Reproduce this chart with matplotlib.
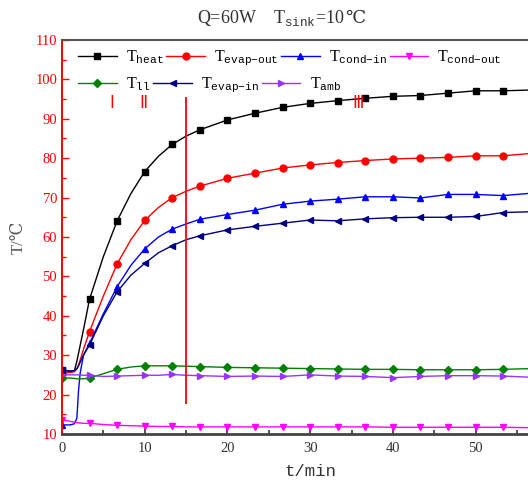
import matplotlib
matplotlib.use("Agg")
import matplotlib.pyplot as plt
from matplotlib.ticker import MultipleLocator, FixedLocator

plt.rcParams['font.family'] = ['Liberation Serif', 'DejaVu Serif']
plt.rcParams['mathtext.fontset'] = 'custom'
plt.rcParams['mathtext.rm'] = 'Liberation Serif'
plt.rcParams['mathtext.tt'] = 'Liberation Mono'

# time (min)
t = [0, 1, 1.5, 1.8, 2, 2.2, 2.6, 3.33, 5, 6.67, 8.33, 10, 11.67, 13.33, 15, 16.67,
     20, 23.33, 26.67, 30, 33.33, 36.67, 40, 43.33, 46.67, 50, 53.33, 56.67, 60]

T_heat = [26.2, 25.9, 26.0, 28.5, 30.5, 32.5, 36.5, 44.2, 55.0, 64.1, 71.0, 76.6, 80.5, 83.5, 85.6, 87.2,
          89.7, 91.4, 92.9, 93.9, 94.6, 95.2, 95.7, 95.9, 96.5, 97.1, 97.1, 97.3, 97.4]
T_evap_out = [25.5, 25.6, 25.8, 26.5, 27.5, 28.8, 31.5, 36.0, 45.0, 53.2, 59.3, 64.2, 67.5, 70.0, 71.6, 72.9,
              74.9, 76.2, 77.5, 78.3, 78.9, 79.4, 79.8, 80.0, 80.2, 80.6, 80.6, 81.2, 81.4]
T_cond_in = [12.3, 12.3, 12.6, 14.0, 21.0, 25.5, 30.0, 33.0, 40.5, 47.4, 52.8, 57.0, 60.0, 62.0, 63.3, 64.5,
             65.7, 66.8, 68.3, 69.1, 69.6, 70.2, 70.2, 69.9, 70.8, 70.8, 70.5, 71.1, 71.2]
T_cond_out = [13.6, 13.2, 13.0, 12.9, 12.8, 12.8, 12.7, 12.7, 12.4, 12.2, 12.1, 12.0, 11.9, 11.9, 11.8, 11.8,
              11.8, 11.8, 11.8, 11.8, 11.8, 11.8, 11.7, 11.7, 11.7, 11.7, 11.7, 11.6, 11.6]
T_ll = [24.2, 24.2, 24.1, 24.0, 24.0, 24.0, 24.0, 24.2, 25.3, 26.4, 27.0, 27.3, 27.3, 27.3, 27.2, 27.1,
        26.9, 26.8, 26.7, 26.6, 26.5, 26.4, 26.4, 26.3, 26.3, 26.3, 26.4, 26.6, 26.7]
T_evap_in = [26.2, 26.0, 26.1, 26.6, 27.3, 28.2, 30.0, 32.6, 40.0, 46.1, 50.3, 53.3, 56.0, 57.8, 59.3, 60.3,
             61.8, 62.7, 63.5, 64.3, 64.1, 64.6, 64.9, 65.0, 65.0, 65.2, 66.2, 66.4, 66.5]
T_amb = [25.0, 25.0, 25.0, 25.0, 25.0, 25.0, 24.9, 24.9, 24.6, 24.7, 24.8, 24.9, 24.9, 25.1, 24.9, 24.8,
         24.6, 24.7, 24.6, 25.0, 24.7, 24.6, 24.3, 24.6, 24.8, 24.8, 24.7, 24.4, 24.4]

marks = [0, 7, 9, 11, 13, 15, 16, 17, 18, 19, 20, 21, 22, 23, 24, 25, 26]

series = [
    (T_heat, 'black', 's', r'T$_{\mathtt{heat}}$'),
    (T_evap_out, 'red', 'o', r'T$_{\mathtt{evap{-}out}}$'),
    (T_cond_in, 'blue', '^', r'T$_{\mathtt{cond{-}in}}$'),
    (T_cond_out, 'magenta', 'v', r'T$_{\mathtt{cond{-}out}}$'),
    (T_ll, 'green', 'D', r'T$_{\mathtt{ll}}$'),
    (T_evap_in, 'navy', '<', r'T$_{\mathtt{evap{-}in}}$'),
    (T_amb, '#9933ff', '>', r'T$_{\mathtt{amb}}$'),
]

fig = plt.figure(figsize=(5.28, 4.88), dpi=100)
ax = fig.add_axes([0.1174, 0.1107, 0.94, 0.8074])

handles = []
for y, c, m, lab in series:
    ms = 4.5 if m == 'D' else 5
    h, = ax.plot(t, y, color=c, marker=m, markevery=marks, markersize=ms, lw=1.0, label=lab)
    handles.append(h)

# stage divider and stage labels
ax.vlines(15, 17.5, 95.5, color='red', lw=1.3, zorder=5)
for xs, txt in [(6.0, 'Ⅰ'), (9.8, 'Ⅱ'), (35.8, 'Ⅲ')]:
    ax.text(xs, 93.8, txt, color='red', fontsize=12, ha='center', va='center',
            family=['STIXGeneral', 'DejaVu Sans'])

ax.set_xlim(0, 60)
ax.set_ylim(10, 110)
ax.xaxis.set_major_locator(FixedLocator([0, 10, 20, 30, 40, 50]))
ax.xaxis.set_minor_locator(FixedLocator([5, 15, 25, 35, 45, 55]))
ax.yaxis.set_major_locator(MultipleLocator(10))
ax.yaxis.set_minor_locator(MultipleLocator(5))
ax.tick_params(axis='x', which='both', direction='in', colors='#333333', labelsize=10.5, width=1.2, pad=6)
ax.tick_params(axis='x', which='major', length=4)
ax.tick_params(axis='x', which='minor', length=3)
ax.tick_params(axis='y', which='both', direction='in', colors='red', labelsize=10.5, width=1)
ax.tick_params(axis='y', which='major', length=5)
ax.tick_params(axis='y', which='minor', length=3)
ax.spines['left'].set_color('red')
ax.spines['left'].set_linewidth(1.4)
ax.spines['bottom'].set_color('#444444')
ax.spines['bottom'].set_linewidth(2)
ax.spines['top'].set_color('#555555')
ax.spines['top'].set_linewidth(1.5)
ax.spines['right'].set_visible(False)

ax.set_xlabel('t/min', family='Liberation Mono', fontsize=12.5, color='#333333', labelpad=6)
ax.set_ylabel('T/℃', family=['Liberation Serif', 'DejaVu Serif'], fontsize=12, color='#555555', labelpad=6)

leg_kw = dict(loc='upper left', frameon=False, fontsize=11.5, handlelength=2.4,
              handletextpad=0.6, columnspacing=0.15, borderaxespad=0.0)
leg1 = ax.legend(handles[:4], [s[3] for s in series[:4]], ncol=4,
                 bbox_to_anchor=(0.02, 0.995), **leg_kw)
ax.add_artist(leg1)
ax.legend(handles[4:], [s[3] for s in series[4:]], ncol=3,
          bbox_to_anchor=(0.02, 0.927), **leg_kw)

# title: math part plus the degree-Celsius sign as plain text
title_a = fig.text(0, 0.965, r'Q=60W    T$_{\mathtt{sink}}$=10', ha='left', va='baseline',
                   fontsize=13, color='#333333')
title_b = fig.text(0, 0.965, '℃', ha='left', va='baseline', fontsize=13, color='#333333')
r = fig.canvas.get_renderer()
wa = title_a.get_window_extent(r).width
wb = title_b.get_window_extent(r).width
x0 = 281 - (wa + wb) / 2
title_a.set_x(x0 / 528)
title_b.set_x((x0 + wa) / 528)
title_a.set_y(1 - 23 / 488)
title_b.set_y(1 - 23 / 488)

fig.savefig('out.png', dpi=100)
